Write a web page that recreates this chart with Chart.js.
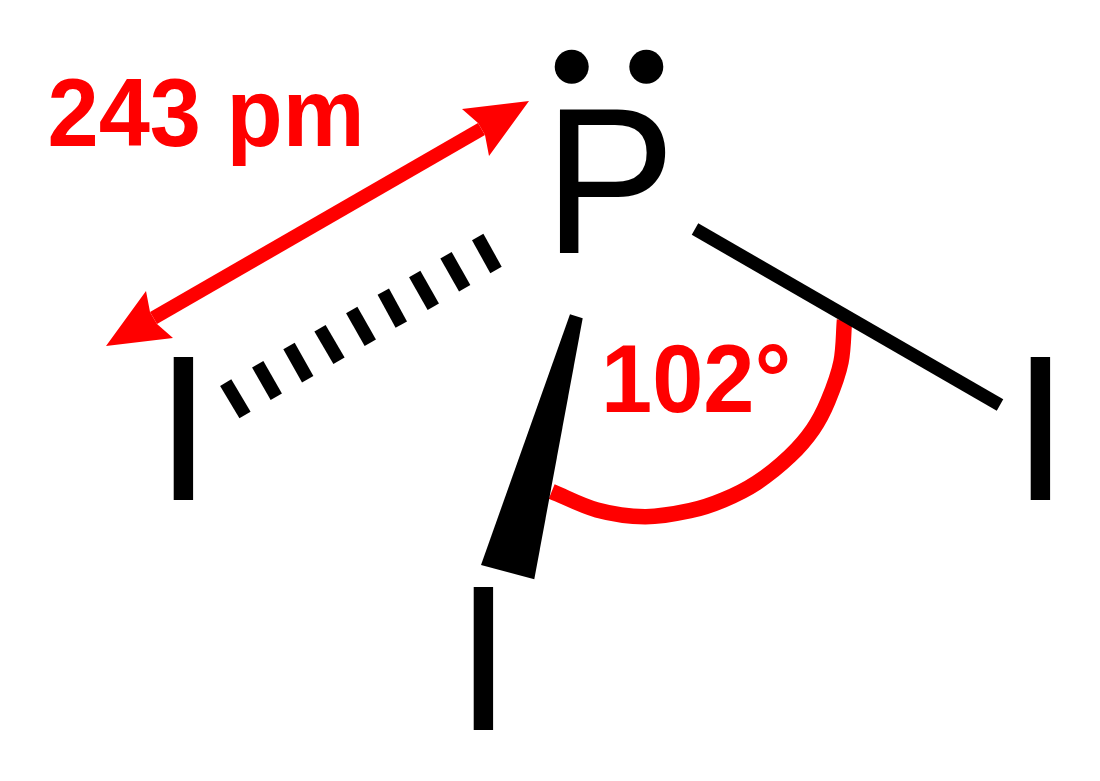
<!DOCTYPE html>
<html>
<head>
<meta charset="utf-8">
<title>Phosphorus triiodide</title>
<script src="https://cdn.jsdelivr.net/npm/chart.js@4"></script>
<style>
    html, body { margin: 0; padding: 0; background: #fff; }
    canvas { display: block; }
</style>
</head>
<body>
<canvas id="chart" width="1100" height="781"></canvas>
<script>
// picture coordinates
const loneX = [571.7, 646.3];
const loneY = [66.7, 66.7];

const bondX = [695, 1000];
const bondY = [229, 405];

const wedgeX = [570, 582.7, 534.3, 481];
const wedgeY = [314.3, 318.3, 579.3, 565];

const hashTopX = [225.7, 257.7, 289, 320, 351.7, 383.3, 414.7, 446, 477.7];
const hashTopY = [382.7, 364.3, 346, 328.3, 310, 291.7, 274, 255.3, 237];
const hashEndX = [245, 276.3, 307.7, 339, 370.3, 401.3, 433.3, 464.7, 496];
const hashEndY = [415, 396.7, 379.3, 360.7, 342.7, 324.7, 306.7, 288.3, 270];

const shaftX = [153.5, 481.5];
const shaftY = [318, 129];
const headRightX = [529, 462, 478, 485, 489];
const headRightY = [101, 109, 123, 135, 156];
const headLeftX = [106, 146, 150, 157, 173];
const headLeftY = [346, 291, 312, 324, 338];

const arcX = [551.7, 597, 645, 690, 723.3, 756.7, 790, 813, 828, 841, 844.5];
const arcY = [491.5, 510, 516.7, 510.7, 500, 482.7, 456, 429.3, 401, 362, 320];

const atomTexts = ['I', 'I', 'I'];
const atomX = [154.5, 1011.5, 454.5];
const atomY = [500, 500, 730];

const centreText = 'P';
const centreX = [543.7];
const centreY = [252.7];

const noteTexts = ['243 pm', '102°'];
const noteX = [47.5, 601];
const noteY = [146, 411.5];

const pts = (xs, ys) => xs.map((x, i) => ({ x: x, y: ys[i] }));

const stroke = (xs, ys, color, width, tension) => ({
    data: pts(xs, ys),
    showLine: true,
    borderColor: color,
    borderWidth: width,
    borderCapStyle: 'butt',
    pointRadius: 0,
    tension: tension || 0,
});

const shape = (xs, ys, color) => ({
    data: pts(xs, ys),
    showLine: true,
    borderColor: color,
    borderWidth: 0,
    backgroundColor: color,
    fill: 'shape',
    pointRadius: 0,
    tension: 0,
});

let datasets = [];
datasets.push(shape(wedgeX, wedgeY, '#000'));
datasets.push(stroke(bondX, bondY, '#000', 13));
hashTopX.forEach((x, i) => {
    datasets.push(stroke([x, hashEndX[i]], [hashTopY[i], hashEndY[i]], '#000', 13));
});
datasets.push({
    data: pts(loneX, loneY),
    pointRadius: 17,
    pointBorderWidth: 0,
    pointBackgroundColor: '#000',
});
datasets.push(stroke(arcX, arcY, '#f00', 15.5, 0.33));
datasets.push(stroke(shaftX, shaftY, '#f00', 14));
datasets.push(shape(headRightX, headRightY, '#f00'));
datasets.push(shape(headLeftX, headLeftY, '#f00'));

// the letters and the red notes, placed through the same scales as the marks
const textPlugin = {
    id: 'moleculeText',
    afterDatasetsDraw(chart) {
        const { ctx, scales } = chart;
        // the reference glyphs are a little narrower/taller than Liberation, hence the stretch
        const put = (text, x, y, sx, sy) => {
            ctx.save();
            ctx.translate(scales.x.getPixelForValue(x), scales.y.getPixelForValue(y));
            ctx.scale(sx, sy);
            ctx.fillText(text, 0, 0);
            ctx.restore();
        };
        ctx.save();
        ctx.textAlign = 'left';
        ctx.textBaseline = 'alphabetic';
        ctx.fillStyle = '#000';
        ctx.font = '208px "Liberation Sans"';
        put(centreText, centreX[0], centreY[0], 0.95, 1);
        atomTexts.forEach((t, i) => put(t, atomX[i], atomY[i], 1, 1));
        ctx.fillStyle = '#f00';
        ctx.font = 'bold 92px "Liberation Sans"';
        noteTexts.forEach((t, i) => put(t, noteX[i], noteY[i], 1, 1.05));
        ctx.restore();
    },
};

new Chart(document.getElementById('chart').getContext('2d'), {
    type: 'scatter',
    data: { datasets: datasets },
    plugins: [textPlugin],
    options: {
        responsive: false,
        animation: false,
        layout: { padding: 0, autoPadding: false },
        plugins: { legend: { display: false }, tooltip: { enabled: false } },
        scales: {
            x: { type: 'linear', display: false, min: 0, max: 1100 },
            y: { type: 'linear', display: false, min: 0, max: 781, reverse: true },
        },
    },
});
</script>
</body>
</html>
